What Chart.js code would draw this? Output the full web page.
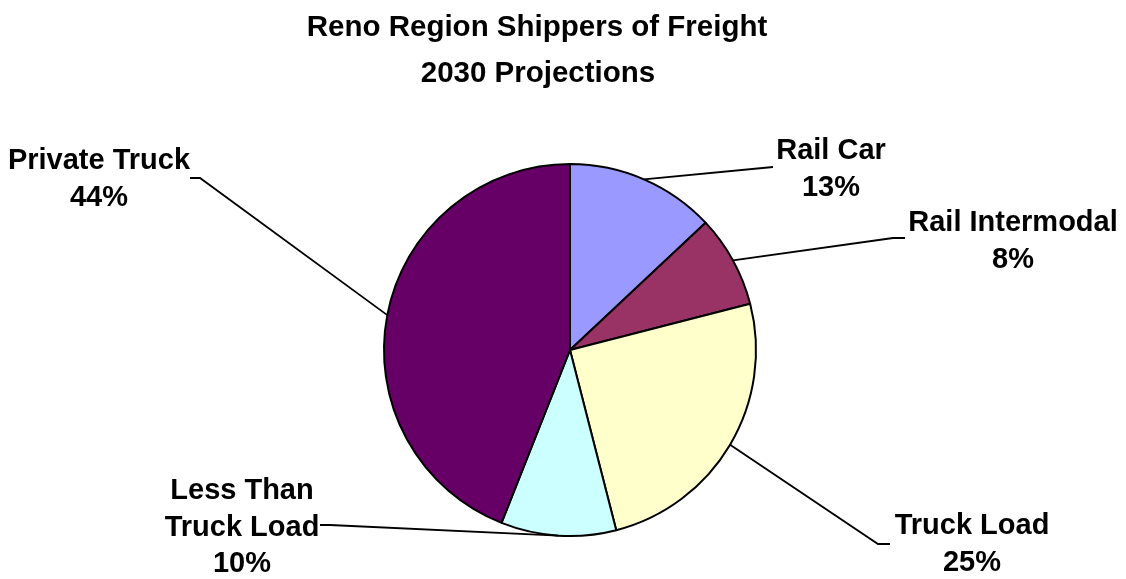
<!DOCTYPE html>
<html>
<head>
<meta charset="UTF-8">
<title>Reno Region Shippers of Freight</title>
<script src="https://cdn.jsdelivr.net/npm/chart.js"></script>
<style>
    body { margin: 0; background: #fff; }
    #freightPie { display: block; }
</style>
</head>
<body>
<canvas id="freightPie" width="1126" height="579"></canvas>
<script>
// shipper categories, clockwise from 12 o'clock
var categories = [['Rail Car'], ['Rail Intermodal'], ['Truck Load'], ['Less Than', 'Truck Load'], ['Private Truck']];
// projected share of freight, percent
var shares = [13, 8, 25, 10, 44];
var sliceColors = ['#9999FF', '#993366', '#FFFFCC', '#CCFFFF', '#660066'];
var titleLines = ['Reno Region Shippers of Freight', '2030 Projections'];

// where each label block sits and where its leader line bends
var labelSpots = [
    { x: 831, y: 151, bend: [773, 167], tick: 0 },
    { x: 1013, y: 223, bend: [893, 238], tick: 12 },
    { x: 972, y: 526, bend: [878, 544], tick: 12 },
    { x: 242, y: 491, bend: [330, 525], tick: -10 },
    { x: 99, y: 161, bend: [200, 178], tick: -10 }
];

var FONT = '"Liberation Sans", Arial, sans-serif';

var calloutPlugin = {
    id: 'callouts',
    afterDatasetsDraw: function(chart) {
        var ctx = chart.ctx;
        var arcs = chart.getDatasetMeta(0).data;
        var total = shares.reduce(function(a, b) { return a + b; }, 0);
        ctx.save();

        // title
        ctx.fillStyle = '#000';
        ctx.textAlign = 'center';
        ctx.textBaseline = 'middle';
        ctx.font = 'bold 29.5px ' + FONT;
        ctx.fillText(titleLines[0], 537, 28);
        ctx.fillText(titleLines[1], 538, 74);

        arcs.forEach(function(arc, i) {
            var p = arc.getProps(['x', 'y', 'startAngle', 'endAngle', 'outerRadius'], true);
            var mid = (p.startAngle + p.endAngle) / 2;
            var ex = p.x + Math.cos(mid) * p.outerRadius;
            var ey = p.y + Math.sin(mid) * p.outerRadius;
            var spot = labelSpots[i];

            // leader line
            ctx.strokeStyle = '#000';
            ctx.lineWidth = 1.8;
            ctx.beginPath();
            ctx.moveTo(ex, ey);
            ctx.lineTo(spot.bend[0], spot.bend[1]);
            if (spot.tick) ctx.lineTo(spot.bend[0] + spot.tick, spot.bend[1]);
            ctx.stroke();

            // name lines + percent
            var lines = categories[i].concat([Math.round(shares[i] / total * 100) + '%']);
            ctx.font = 'bold 29px ' + FONT;
            lines.forEach(function(txt, k) {
                ctx.fillText(txt, spot.x, spot.y + k * 36.5);
            });
        });
        ctx.restore();
    }
};

new Chart(document.getElementById('freightPie'), {
    type: 'pie',
    data: {
        labels: categories,
        datasets: [{
            data: shares,
            backgroundColor: sliceColors,
            borderColor: '#000',
            borderWidth: 2,
            borderAlign: 'center'
        }]
    },
    options: {
        responsive: false,
        animation: false,
        layout: { padding: { left: 383, right: 369, top: 163, bottom: 42 } },
        plugins: {
            legend: { display: false },
            title: { display: false },
            tooltip: { enabled: false }
        }
    },
    plugins: [calloutPlugin]
});
</script>
</body>
</html>
